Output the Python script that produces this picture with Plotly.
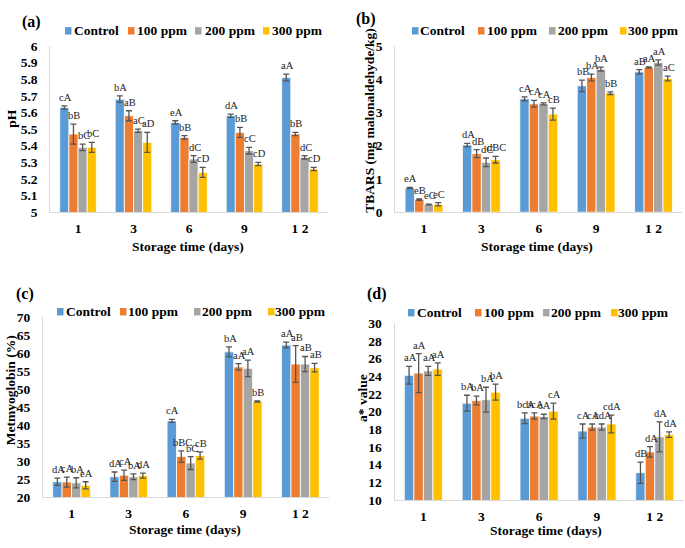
import plotly.graph_objects as go

# ---------------- data ----------------
days = ["1", "3", "6", "9", "12"]
day_ticktext = ["1", "3", "6", "9", "1 2"]
series_names = ["Control", "100 ppm", "200 ppm", "300 ppm"]
series_colors = ["#5B9BD5", "#ED7D31", "#A5A5A5", "#FFC000"]

# (a) pH
ph_control = [5.63, 5.68, 5.54, 5.58, 5.81]
ph_100 = [5.47, 5.58, 5.45, 5.48, 5.47]
ph_200 = [5.39, 5.49, 5.32, 5.37, 5.33]
ph_300 = [5.39, 5.42, 5.24, 5.29, 5.26]
ph_err_control = [0.01, 0.02, 0.01, 0.01, 0.02]
ph_err_100 = [0.06, 0.03, 0.01, 0.03, 0.01]
ph_err_200 = [0.02, 0.01, 0.02, 0.02, 0.01]
ph_err_300 = [0.03, 0.06, 0.03, 0.01, 0.01]
ph_letters_control = ["cA", "bA", "eA", "dA", "aA"]
ph_letters_100 = ["bB", "aB", "bB", "bB", "bB"]
ph_letters_200 = ["bC", "aC", "dC", "cC", "dC"]
ph_letters_300 = ["bC", "aD", "cD", "cD", "cD"]
ph_tickvals = [5.0, 5.1, 5.2, 5.3, 5.4, 5.5, 5.6, 5.7, 5.8, 5.9, 6.0]
ph_ticktext = ["5", "5.1", "5.2", "5.3", "5.4", "5.5", "5.6", "5.7", "5.8", "5.9", "6"]

# (b) TBARS
tbars_control = [0.73, 2.02, 3.41, 3.80, 4.22]
tbars_100 = [0.38, 1.76, 3.26, 4.05, 4.35]
tbars_200 = [0.23, 1.50, 3.26, 4.30, 4.50]
tbars_300 = [0.24, 1.58, 2.95, 3.58, 4.02]
tbars_err_control = [0.02, 0.05, 0.06, 0.17, 0.07]
tbars_err_100 = [0.02, 0.12, 0.10, 0.10, 0.02]
tbars_err_200 = [0.01, 0.13, 0.03, 0.06, 0.08]
tbars_err_300 = [0.05, 0.10, 0.18, 0.04, 0.07]
tbars_letters_control = ["eA", "dA", "cA", "bB", "aB"]
tbars_letters_100 = ["eB", "dB", "cA", "bA", "aA"]
tbars_letters_200 = ["eC", "dC", "cA", "bA", "aA"]
tbars_letters_300 = ["eC", "dBC", "cB", "bB", "aC"]
tbars_tickvals = [0, 1, 2, 3, 4, 5]
tbars_ticktext = ["0", "1", "2", "3", "4", "5"]

# (c) Metmyoglobin
metmb_control = [24.3, 25.7, 41.2, 60.4, 62.3]
metmb_100 = [24.2, 26.1, 31.3, 56.2, 57.0]
metmb_200 = [24.0, 25.7, 29.5, 55.8, 57.0]
metmb_300 = [23.3, 26.0, 31.6, 46.6, 56.0]
metmb_err_control = [1.0, 1.3, 0.4, 1.4, 0.8]
metmb_err_100 = [1.4, 1.4, 1.6, 0.9, 5.1]
metmb_err_200 = [1.4, 0.8, 1.8, 2.3, 2.1]
metmb_err_300 = [1.0, 0.7, 1.0, 0.15, 1.2]
metmb_letters_control = ["dA", "dA", "cA", "bA", "aA"]
metmb_letters_100 = ["cA", "cA", "bBC", "aA", "aB"]
metmb_letters_200 = ["bA", "bA", "bC", "aA", "aB"]
metmb_letters_300 = ["eA", "dA", "cB", "bB", "aB"]
metmb_tickvals = [20, 25, 30, 35, 40, 45, 50, 55, 60, 65, 70]
metmb_ticktext = ["20", "25", "30", "35", "40", "45", "50", "55", "60", "65", "70"]

# (d) a* value
astar_control = [24.1, 20.95, 19.25, 17.8, 13.1]
astar_100 = [24.35, 21.25, 19.5, 18.25, 15.45]
astar_200 = [24.6, 21.35, 19.45, 18.25, 17.15]
astar_300 = [24.8, 22.2, 20.05, 18.6, 17.4]
astar_err_control = [1.0, 0.9, 0.6, 0.8, 1.2]
astar_err_100 = [2.2, 0.5, 0.35, 0.35, 0.6]
astar_err_200 = [0.5, 1.4, 0.25, 0.35, 1.7]
astar_err_300 = [0.7, 0.9, 0.9, 1.0, 0.3]
astar_letters_control = ["aA", "bA", "bcA", "cA", "dB"]
astar_letters_100 = ["aA", "bA", "bcA", "cA", "dA"]
astar_letters_200 = ["aA", "bA", "cA", "cdA", "dA"]
astar_letters_300 = ["aA", "bA", "cA", "cdA", "dA"]
astar_tickvals = [10, 12, 14, 16, 18, 20, 22, 24, 26, 28, 30]
astar_ticktext = ["10", "12", "14", "16", "18", "20", "22", "24", "26", "28", "30"]

# ---------------- layout geometry (pixels) ----------------
W, H = 685, 548
FONT = "Liberation Serif"
BARGAP = 0.34
TICK_SIZE = 13.5
TITLE_SIZE = 13.5
LETTER_SIZE = 10.5


def px_x(v):
    return v / W


def px_y(v):
    return 1 - v / H


panels = [
    dict(tag="(a)", ax="", vals=[ph_control, ph_100, ph_200, ph_300],
         errs=[ph_err_control, ph_err_100, ph_err_200, ph_err_300],
         letters=[ph_letters_control, ph_letters_100, ph_letters_200, ph_letters_300],
         yrange=[5, 6], tickvals=ph_tickvals, ticktext=ph_ticktext, ytitle="pH",
         xdom=(50.3, 327.7), ydom=(40, 211), tagpos=(32, 15),
         ytitle_pos=(12, 115), xtitle_pos=(188, 246),
         leg_y=24.5, leg_sq=[65, 128, 195, 263], leg_tx=[74, 137, 205, 272]),
    dict(tag="(b)", ax="2", vals=[tbars_control, tbars_100, tbars_200, tbars_300],
         errs=[tbars_err_control, tbars_err_100, tbars_err_200, tbars_err_300],
         letters=[tbars_letters_control, tbars_letters_100, tbars_letters_200, tbars_letters_300],
         yrange=[0, 5], tickvals=tbars_tickvals, ticktext=tbars_ticktext,
         ytitle="TBARS (mg malonaldehyde/kg)",
         xdom=(395.3, 682.2), ydom=(40, 211), tagpos=(366, 12),
         ytitle_pos=(370, 117), xtitle_pos=(537, 246),
         leg_y=24.5, leg_sq=[412, 478, 549, 620], leg_tx=[420, 487, 558, 628]),
    dict(tag="(c)", ax="3", vals=[metmb_control, metmb_100, metmb_200, metmb_300],
         errs=[metmb_err_control, metmb_err_100, metmb_err_200, metmb_err_300],
         letters=[metmb_letters_control, metmb_letters_100, metmb_letters_200, metmb_letters_300],
         yrange=[20, 70], tickvals=metmb_tickvals, ticktext=metmb_ticktext,
         ytitle="Metmyoglobin (%)",
         xdom=(42.9, 329.0), ydom=(319, 504), tagpos=(25, 295),
         ytitle_pos=(10, 394), xtitle_pos=(185, 537),
         leg_y=313.3, leg_sq=[57, 120, 194, 268], leg_tx=[66, 128, 202, 275]),
    dict(tag="(d)", ax="4", vals=[astar_control, astar_100, astar_200, astar_300],
         errs=[astar_err_control, astar_err_100, astar_err_200, astar_err_300],
         letters=[astar_letters_control, astar_letters_100, astar_letters_200, astar_letters_300],
         yrange=[10, 30], tickvals=astar_tickvals, ticktext=astar_ticktext,
         ytitle="a* value",
         xdom=(394.5, 683.7), ydom=(325, 507), tagpos=(377, 295),
         ytitle_pos=(363, 402), xtitle_pos=(546, 538),
         leg_y=314.3, leg_sq=[408, 475, 543, 611], leg_tx=[417, 484, 551, 618]),
]

fig = go.Figure()
annotations = []
shapes = []

group_w = 1 - BARGAP
bar_w = group_w / len(series_names)

for p in panels:
    xa = "x" + p["ax"]
    ya = "y" + p["ax"]
    for j, name in enumerate(series_names):
        fig.add_trace(go.Bar(
            x=days, y=p["vals"][j], name=name, xaxis=xa, yaxis=ya,
            marker=dict(color=series_colors[j], line=dict(color="white", width=0.8)),
            error_y=dict(type="data", array=p["errs"][j], visible=True,
                         color="#555555", thickness=1.3, width=3),
            showlegend=False,
        ))
        off = -group_w / 2 + bar_w * (j + 0.5)
        for i in range(len(days)):
            annotations.append(dict(
                x=i + off, y=p["vals"][j][i] + p["errs"][j][i], xref=xa, yref=ya,
                text=p["letters"][j][i], showarrow=False, yanchor="bottom",
                xanchor="center", yshift=1, xshift=1,
                font=dict(family=FONT, size=LETTER_SIZE, color="#222222"),
            ))
    lay_x = "xaxis" + p["ax"]
    lay_y = "yaxis" + p["ax"]
    fig.layout[lay_x] = dict(
        domain=[px_x(p["xdom"][0]), px_x(p["xdom"][1])], anchor=ya,
        type="category", categoryorder="array", categoryarray=days,
        tickvals=days, ticktext=day_ticktext, range=[-0.5, 4.5],
        showline=True, linecolor="#D9D9D9", linewidth=1, showgrid=False,
        ticks="", ticklabelstandoff=4,
        tickfont=dict(family=FONT, size=TICK_SIZE, color="black", weight="bold"),
        fixedrange=True,
    )
    fig.layout[lay_y] = dict(
        domain=[px_y(p["ydom"][1]), px_y(p["ydom"][0])], anchor=xa,
        range=p["yrange"], tickvals=p["tickvals"], ticktext=p["ticktext"],
        showline=True, linecolor="#D9D9D9", linewidth=1, showgrid=False,
        zeroline=False, ticks="", ticklabelstandoff=9,
        tickfont=dict(family=FONT, size=TICK_SIZE, color="black", weight="bold"),
        fixedrange=True,
    )
    # panel tag
    annotations.append(dict(
        x=px_x(p["tagpos"][0]), y=px_y(p["tagpos"][1]), xref="paper", yref="paper",
        text="<b>" + p["tag"] + "</b>", showarrow=False, xanchor="center", yanchor="middle",
        font=dict(family=FONT, size=16, color="black"),
    ))
    # y title
    annotations.append(dict(
        x=px_x(p["ytitle_pos"][0]), y=px_y(p["ytitle_pos"][1]), xref="paper", yref="paper",
        text="<b>" + p["ytitle"] + "</b>", showarrow=False, textangle=-90,
        xanchor="center", yanchor="middle",
        font=dict(family=FONT, size=TITLE_SIZE, color="black"),
    ))
    # x title
    annotations.append(dict(
        x=px_x(p["xtitle_pos"][0]), y=px_y(p["xtitle_pos"][1]), xref="paper", yref="paper",
        text="<b>Storage time (days)</b>", showarrow=False,
        xanchor="center", yanchor="middle",
        font=dict(family=FONT, size=TITLE_SIZE, color="black"),
    ))
    # legend (manual, one per panel)
    for j, name in enumerate(series_names):
        sx = p["leg_sq"][j]
        cy = p["leg_y"]
        shapes.append(dict(
            type="rect", xref="paper", yref="paper",
            x0=px_x(sx), x1=px_x(sx + 6.5), y0=px_y(cy + 3.8), y1=px_y(cy - 3.8),
            fillcolor=series_colors[j], line=dict(width=0),
        ))
        annotations.append(dict(
            x=px_x(p["leg_tx"][j]), y=px_y(cy), xref="paper", yref="paper",
            text="<b>" + name + "</b>", showarrow=False, xanchor="left", yanchor="middle",
            xshift=-2,
            font=dict(family=FONT, size=13.5, color="black"),
        ))

fig.update_layout(
    width=W, height=H,
    margin=dict(l=0, r=0, t=0, b=0),
    paper_bgcolor="white", plot_bgcolor="white",
    barmode="group", bargap=BARGAP, bargroupgap=0,
    annotations=annotations, shapes=shapes,
    showlegend=False,
    font=dict(family=FONT, color="black"),
)

fig.write_html(
    "out.html",
    config={"displayModeBar": False},
    post_script="document.body.style.margin='0';document.body.style.overflow='hidden';",
)
